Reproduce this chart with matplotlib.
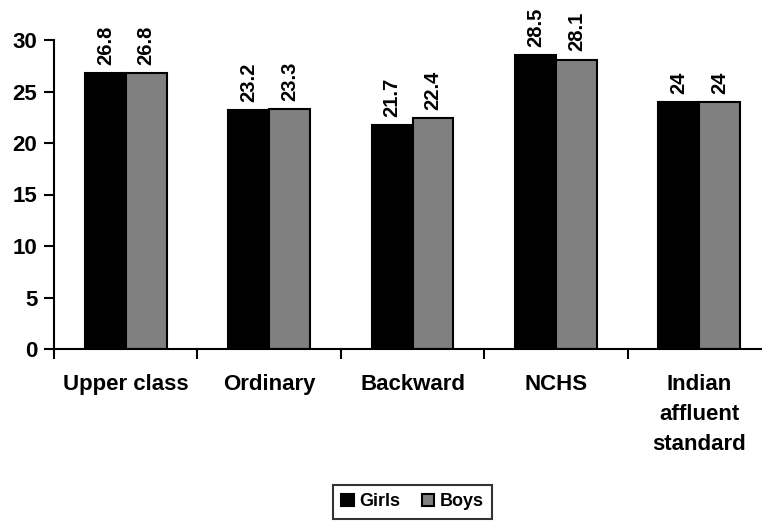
import matplotlib.pyplot as plt
import numpy as np

plt.rcParams['font.family'] = ['Liberation Sans', 'DejaVu Sans']
plt.rcParams['font.weight'] = 'bold'

categories = ['Upper class', 'Ordinary', 'Backward', 'NCHS', 'Indian\naffluent\nstandard']
girls = [26.8, 23.2, 21.7, 28.5, 24.0]
boys = [26.8, 23.3, 22.4, 28.1, 24.0]
yticks = [0, 5, 10, 15, 20, 25, 30]

fig = plt.figure(figsize=(7.62, 5.21), dpi=100)
ax = fig.add_axes([54 / 762, 1 - 349 / 521, 717 / 762, 309 / 521])

x = np.arange(len(categories))
w = 0.285
b1 = ax.bar(x - w / 2, girls, w, color='black', edgecolor='black', linewidth=1.5, label='Girls')
b2 = ax.bar(x + w / 2, boys, w, color='#808080', edgecolor='black', linewidth=1.5, label='Boys')

# value labels, rotated, just above each bar
for bars, vals in ((b1, girls), (b2, boys)):
    for bar, v in zip(bars, vals):
        ax.text(bar.get_x() + bar.get_width() / 2, v + 0.8, f'{v:g}',
                rotation=90, ha='center', va='bottom', fontsize=14.5, fontweight='bold')

ax.set_xlim(-0.5, len(categories) - 0.5)
ax.set_ylim(0, 30)
ax.set_yticks(yticks)
ax.set_xticks(x)
ax.set_xticklabels(categories, fontsize=16, fontweight='bold', va='top', linespacing=1.55)
ax.tick_params(axis='x', length=0, pad=18)
ax.set_xticks(np.arange(len(categories) + 1) - 0.5, minor=True)
ax.tick_params(axis='x', which='minor', length=7, width=1.5, direction='out')
ax.tick_params(axis='y', length=7, width=1.5, labelsize=16, pad=5)
for lbl in ax.get_yticklabels():
    lbl.set_fontweight('bold')

for s in ('top', 'right'):
    ax.spines[s].set_visible(False)
for s in ('left', 'bottom'):
    ax.spines[s].set_linewidth(1.5)

leg = ax.legend(loc='center', bbox_to_anchor=(0.5, -0.495), ncol=2, frameon=True,
                fancybox=False, edgecolor='black', handlelength=0.7,
                handleheight=0.7, handletextpad=0.3, columnspacing=1.2,
                borderpad=0.45, borderaxespad=0, prop={'weight': 'bold', 'size': 13})
leg.get_frame().set_linewidth(1.5)

fig.savefig('out.png', dpi=100)
